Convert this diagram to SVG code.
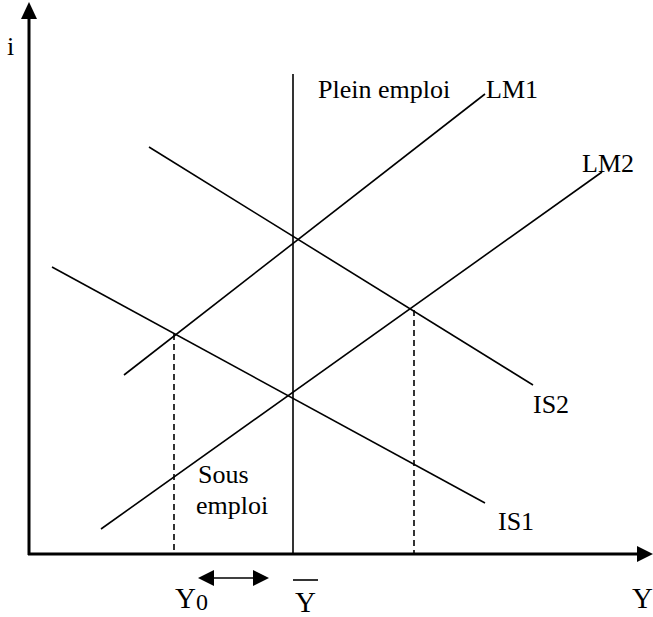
<svg xmlns="http://www.w3.org/2000/svg" width="653" height="617" viewBox="0 0 653 617">
<defs>
<style>
.ax{stroke:#000;stroke-width:3;fill:none}
.ln{stroke:#000;stroke-width:1.6;fill:none}
.ds{stroke:#000;stroke-width:1.6;fill:none;stroke-dasharray:6,4}
.t{font-family:"Liberation Serif","Times New Roman",serif;font-size:26px;fill:#000}
.tb{font-family:"Liberation Serif","Times New Roman",serif;font-size:29px;fill:#000}
</style>
</defs>
<rect width="653" height="617" fill="#fff"/>
<g id="axes">
<line class="ax" x1="29" y1="555" x2="29" y2="16"/>
<polygon points="29,2 21,19 37,19" fill="#000"/>
<line class="ax" x1="28" y1="554" x2="640" y2="554"/>
<polygon points="653,554 637,546 637,562" fill="#000"/>
</g>
<g id="connectors">
<line id="plein" class="ln" x1="293" y1="74" x2="293" y2="554"/>
<line id="LM1" class="ln" x1="124" y1="375" x2="485" y2="94"/>
<line id="LM2" class="ln" x1="101" y1="529" x2="602" y2="172"/>
<line id="IS1" class="ln" x1="52" y1="267" x2="485" y2="503"/>
<line id="IS2" class="ln" x1="149" y1="147" x2="533" y2="385"/>
<line class="ds" x1="174" y1="334" x2="174" y2="554"/>
<line class="ds" x1="414" y1="310" x2="414" y2="554"/>
<line class="ln" stroke-width="2.5" x1="210" y1="578" x2="256" y2="578"/>
<polygon points="198,578 214,570 214,586" fill="#000"/>
<polygon points="269,578 253,570 253,586" fill="#000"/>
</g>
<g id="labels">
<text class="t" x="7" y="55" font-size="30">i</text>
<text class="t" x="318" y="98">Plein emploi</text>
<text class="t" x="486" y="98">LM1</text>
<text class="t" x="582" y="172">LM2</text>
<text class="t" x="533" y="413">IS2</text>
<text class="t" x="498" y="530">IS1</text>
<text class="t" x="198" y="483">Sous</text>
<text class="t" x="196" y="514">emploi</text>
<text class="tb" x="175" y="608">Y<tspan font-size="24" dy="2">0</tspan></text>
<text class="tb" x="295" y="612">Y</text>
<line class="ln" stroke-width="2" x1="293" y1="580" x2="318" y2="580"/>
<text class="tb" x="632" y="608">Y</text>
</g>
</svg>
